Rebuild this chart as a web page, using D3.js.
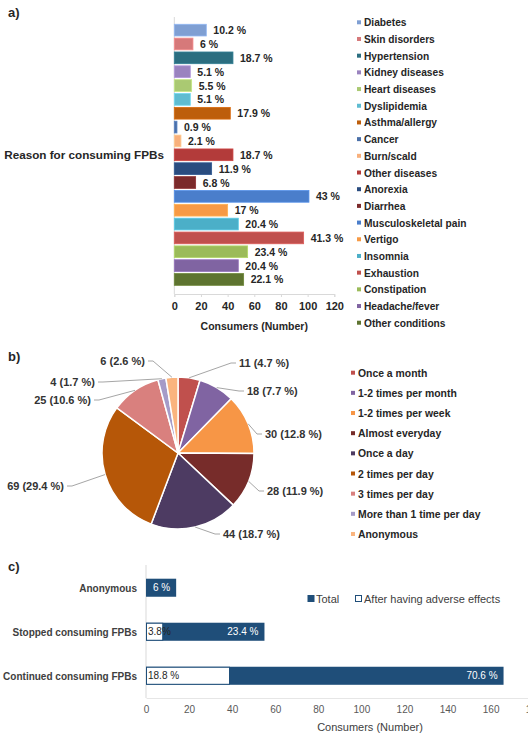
<!DOCTYPE html>
<html>
<head>
<meta charset="utf-8">
<script src="https://cdn.jsdelivr.net/npm/d3@7/dist/d3.min.js"></script>
<style>
  body { margin: 0; background: #fff; }
  text { font-family: "Liberation Sans", Arial, sans-serif; }
</style>
</head>
<body>
<div id="chart"></div>
<script>
// ---- data ----
var reasons = ["Diabetes", "Skin disorders", "Hypertension", "Kidney diseases", "Heart diseases",
  "Dyslipidemia", "Asthma/allergy", "Cancer", "Burn/scald", "Other diseases", "Anorexia",
  "Diarrhea", "Musculoskeletal pain", "Vertigo", "Insomnia", "Exhaustion", "Constipation",
  "Headache/fever", "Other conditions"];
var reasonCounts = [24, 14, 44, 12, 13, 12, 42, 2, 5, 44, 28, 16, 101, 40, 48, 97, 55, 48, 52];
var reasonPct = ["10.2 %", "6 %", "18.7 %", "5.1 %", "5.5 %", "5.1 %", "17.9 %", "0.9 %", "2.1 %",
  "18.7 %", "11.9 %", "6.8 %", "43 %", "17 %", "20.4 %", "41.3 %", "23.4 %", "20.4 %", "22.1 %"];
var reasonColors = ["#7f9fd3", "#d6797a", "#2b6e80", "#9a83bf", "#aac972", "#5fbcd1", "#bd5e0b",
  "#4b70a8", "#f8b07c", "#b33b3a", "#2a4c7f", "#7b2a2b", "#4a7ecb", "#f79a45", "#4bafc8",
  "#c0504d", "#9bbb59", "#8064a2", "#5e7430"];
var xTicksA = [0, 20, 40, 60, 80, 100, 120];

var freqCats = ["Once a month", "1-2 times per month", "1-2 times per week", "Almost everyday",
  "Once a day", "2 times per day", "3 times per day", "More than 1 time per day", "Anonymous"];
var freqCounts = [11, 18, 30, 28, 44, 69, 25, 4, 6];
var freqPct = ["4.7", "7.7", "12.8", "11.9", "18.7", "29.4", "10.6", "1.7", "2.6"];
var freqColors = ["#c0504d", "#8064a2", "#f79646", "#772c2a", "#4d3b62", "#b65708", "#d9807e",
  "#a59bc8", "#fab47e"];

var outcomeCats = ["Anonymous", "Stopped consuming FPBs", "Continued consuming FPBs"];
var totalCounts = [14, 55, 166];
var totalPct = ["6 %", "23.4 %", "70.6 %"];
var adverseCounts = [null, 8, 39];
var adversePct = [null, "3.8%", "18.8 %"];
var xTicksC = [0, 20, 40, 60, 80, 100, 120, 140, 160, 180];

// ---- layout ----
var W = 528, H = 735;
var svg = d3.select("#chart").append("svg")
  .attr("width", W)
  .attr("height", H);

var dark = "#262626";

// =================== panel a ===================
svg.append("text").attr("x", 8).attr("y", 17)
  .attr("font-size", 13).attr("font-weight", "bold").attr("fill", dark).text("a)");

var xA = d3.scaleLinear().domain([0, 120]).range([174.3, 334.3]);
var yA = d3.scaleBand().domain(reasons).range([23.2, 286.4]).paddingInner(0.155).paddingOuter(0.078);

// axis lines
svg.append("line").attr("x1", xA(0)).attr("x2", xA(0)).attr("y1", 17).attr("y2", 294)
  .attr("stroke", "#d9d9d9");
var axA = svg.append("g").attr("transform", "translate(0,294)")
  .call(d3.axisBottom(xA).tickValues(xTicksA).tickSize(3).tickPadding(5));
axA.select(".domain").attr("stroke", "#d9d9d9");
axA.selectAll(".tick line").attr("stroke", "#d9d9d9");
axA.selectAll(".tick text").attr("font-size", 11).attr("font-weight", "bold")
  .attr("fill", dark).attr("font-family", "Liberation Sans, Arial, sans-serif");

svg.selectAll("rect.barA")
  .data(reasons)
  .enter()
  .append("rect")
  .attr("class", "barA")
  .attr("x", xA(0))
  .attr("y", d => yA(d))
  .attr("width", (d, i) => xA(reasonCounts[i]) - xA(0))
  .attr("height", yA.bandwidth())
  .attr("fill", (d, i) => reasonColors[i])
  .attr("stroke", (d, i) => d3.color(reasonColors[i]).brighter(0.4))
  .attr("stroke-width", 0.8);

svg.selectAll("text.lblA")
  .data(reasons)
  .enter()
  .append("text")
  .attr("class", "lblA")
  .attr("x", (d, i) => xA(reasonCounts[i]) + 7)
  .attr("y", d => yA(d) + yA.bandwidth() / 2 + 4)
  .attr("font-size", 10.5)
  .attr("font-weight", "bold")
  .attr("fill", dark)
  .text((d, i) => reasonPct[i]);

svg.append("text").attr("x", 164).attr("y", 159).attr("text-anchor", "end")
  .attr("font-size", 11.7).attr("font-weight", "bold").attr("fill", dark)
  .text("Reason for consuming FPBs");

svg.append("text").attr("x", (xA(0) + xA(120)) / 2).attr("y", 330).attr("text-anchor", "middle")
  .attr("font-size", 10.5).attr("font-weight", "bold").attr("fill", dark)
  .text("Consumers (Number)");

// legend a
var legA = svg.append("g").attr("transform", "translate(357,22.3)");
reasons.forEach(function(r, i) {
  var g = legA.append("g").attr("transform", `translate(0, ${i * 16.69})`);
  g.append("rect").attr("x", 0).attr("y", -2).attr("width", 4).attr("height", 4)
    .attr("fill", reasonColors[i]);
  g.append("text").attr("x", 7).attr("y", 4).attr("font-size", 10.2).attr("font-weight", "bold")
    .attr("fill", dark).text(r);
});

// =================== panel b ===================
svg.append("text").attr("x", 8).attr("y", 361)
  .attr("font-size", 13).attr("font-weight", "bold").attr("fill", dark).text("b)");

var cx = 178, cy = 453, R = 76;
var pie = d3.pie().sort(null).value(d => d)(freqCounts);
var arc = d3.arc().innerRadius(0).outerRadius(R);
var pieG = svg.append("g").attr("transform", `translate(${cx},${cy})`);

pieG.selectAll("path")
  .data(pie)
  .enter()
  .append("path")
  .attr("d", arc)
  .attr("fill", (d, i) => freqColors[i])
  .attr("stroke", "#fff")
  .attr("stroke-width", 1.5);

// label anchors relative to pie centre, and which side the text sits on
var pieLabelPos = [[61, -89, "start"], [69, -61, "start"], [87, -18, "start"], [89, 39, "start"],
  [45, 82, "start"], [-114, 34, "end"], [-87, -52, "end"], [-83, -70, "end"], [-33, -91, "end"]];

pie.forEach(function(d, i) {
  var a = (d.startAngle + d.endAngle) / 2;
  var sx = Math.sin(a) * R, sy = -Math.cos(a) * R;
  var p = pieLabelPos[i];
  var ex = p[0] + (p[2] === "start" ? -3 : 3), ey = p[1] - 1;
  var elbow = p[2] === "start" ? ex - 5 : ex + 5;
  pieG.append("polyline")
    .attr("points", `${sx},${sy} ${elbow},${ey} ${ex},${ey}`)
    .attr("fill", "none").attr("stroke", "#a6a6a6").attr("stroke-width", 1);
  pieG.append("text")
    .attr("x", p[0]).attr("y", p[1] + 3)
    .attr("text-anchor", p[2])
    .attr("font-size", 11).attr("font-weight", "bold").attr("fill", "#333")
    .text(`${freqCounts[i]} (${freqPct[i]} %)`);
});

// legend b
var legB = svg.append("g").attr("transform", "translate(351,372.7)");
freqCats.forEach(function(c, i) {
  var g = legB.append("g").attr("transform", `translate(0, ${i * 20.16})`);
  g.append("rect").attr("x", 0).attr("y", -2).attr("width", 4).attr("height", 4)
    .attr("fill", freqColors[i]);
  g.append("text").attr("x", 7).attr("y", 4).attr("font-size", 10.4).attr("font-weight", "bold")
    .attr("fill", dark).text(c);
});

// =================== panel c ===================
svg.append("text").attr("x", 8).attr("y", 571)
  .attr("font-size", 13).attr("font-weight", "bold").attr("fill", dark).text("c)");

var blue = "#1f4e79";
var xC = d3.scaleLinear().domain([0, 180]).range([146, 533.7]);
var yC = d3.scaleBand().domain(outcomeCats).range([565.5, 698]).paddingInner(0.59).paddingOuter(0.3);

svg.append("line").attr("x1", xC(0)).attr("x2", xC(0)).attr("y1", 565).attr("y2", 698)
  .attr("stroke", "#d9d9d9");
var axC = svg.append("g").attr("transform", "translate(0,698)")
  .call(d3.axisBottom(xC).tickValues(xTicksC).tickSize(0).tickPadding(8));
axC.select(".domain").attr("stroke", "#e6e6e6");
axC.selectAll(".tick text").attr("font-size", 10).attr("fill", "#595959")
  .attr("font-family", "Liberation Sans, Arial, sans-serif");

svg.selectAll("rect.tot")
  .data(outcomeCats)
  .enter()
  .append("rect")
  .attr("class", "tot")
  .attr("x", xC(0))
  .attr("y", d => yC(d))
  .attr("width", (d, i) => xC(totalCounts[i]) - xC(0))
  .attr("height", yC.bandwidth())
  .attr("fill", blue);

svg.selectAll("rect.adv")
  .data(outcomeCats.filter((d, i) => adverseCounts[i] != null))
  .enter()
  .append("rect")
  .attr("class", "adv")
  .attr("x", xC(0) + 0.5)
  .attr("y", d => yC(d) + 0.5)
  .attr("width", d => xC(adverseCounts[outcomeCats.indexOf(d)]) - xC(0) - 1)
  .attr("height", yC.bandwidth() - 1)
  .attr("fill", "#fff")
  .attr("stroke", blue)
  .attr("stroke-width", 1);

svg.selectAll("text.totLbl")
  .data(outcomeCats)
  .enter()
  .append("text")
  .attr("class", "totLbl")
  .attr("x", (d, i) => xC(totalCounts[i]) - 6)
  .attr("y", d => yC(d) + yC.bandwidth() / 2 + 3.5)
  .attr("text-anchor", "end")
  .attr("font-size", 10)
  .attr("fill", "#fff")
  .text((d, i) => totalPct[i]);

svg.selectAll("text.advLbl")
  .data(outcomeCats.filter((d, i) => adverseCounts[i] != null))
  .enter()
  .append("text")
  .attr("class", "advLbl")
  .attr("x", xC(0) + 2)
  .attr("y", d => yC(d) + yC.bandwidth() / 2 + 3.5)
  .attr("font-size", 10)
  .attr("fill", "#262626")
  .text(d => adversePct[outcomeCats.indexOf(d)]);

svg.selectAll("text.catC")
  .data(outcomeCats)
  .enter()
  .append("text")
  .attr("class", "catC")
  .attr("x", 137)
  .attr("y", d => yC(d) + yC.bandwidth() / 2 + 4)
  .attr("text-anchor", "end")
  .attr("font-size", 10)
  .attr("font-weight", "bold")
  .attr("fill", "#404040")
  .text(d => d);

svg.append("text").attr("x", 370).attr("y", 731).attr("text-anchor", "middle")
  .attr("font-size", 11).attr("fill", "#404040").text("Consumers (Number)");

// legend c
var legC = svg.append("g").attr("transform", "translate(0,598.5)");
legC.append("rect").attr("x", 307.5).attr("y", -3.5).attr("width", 7).attr("height", 7).attr("fill", blue);
legC.append("text").attr("x", 316).attr("y", 4).attr("font-size", 11).attr("fill", "#404040").text("Total");
legC.append("rect").attr("x", 355.5).attr("y", -3).attr("width", 6).attr("height", 6)
  .attr("fill", "#fff").attr("stroke", blue);
legC.append("text").attr("x", 364).attr("y", 4).attr("font-size", 11).attr("fill", "#404040")
  .text("After having adverse effects");
</script>
</body>
</html>
